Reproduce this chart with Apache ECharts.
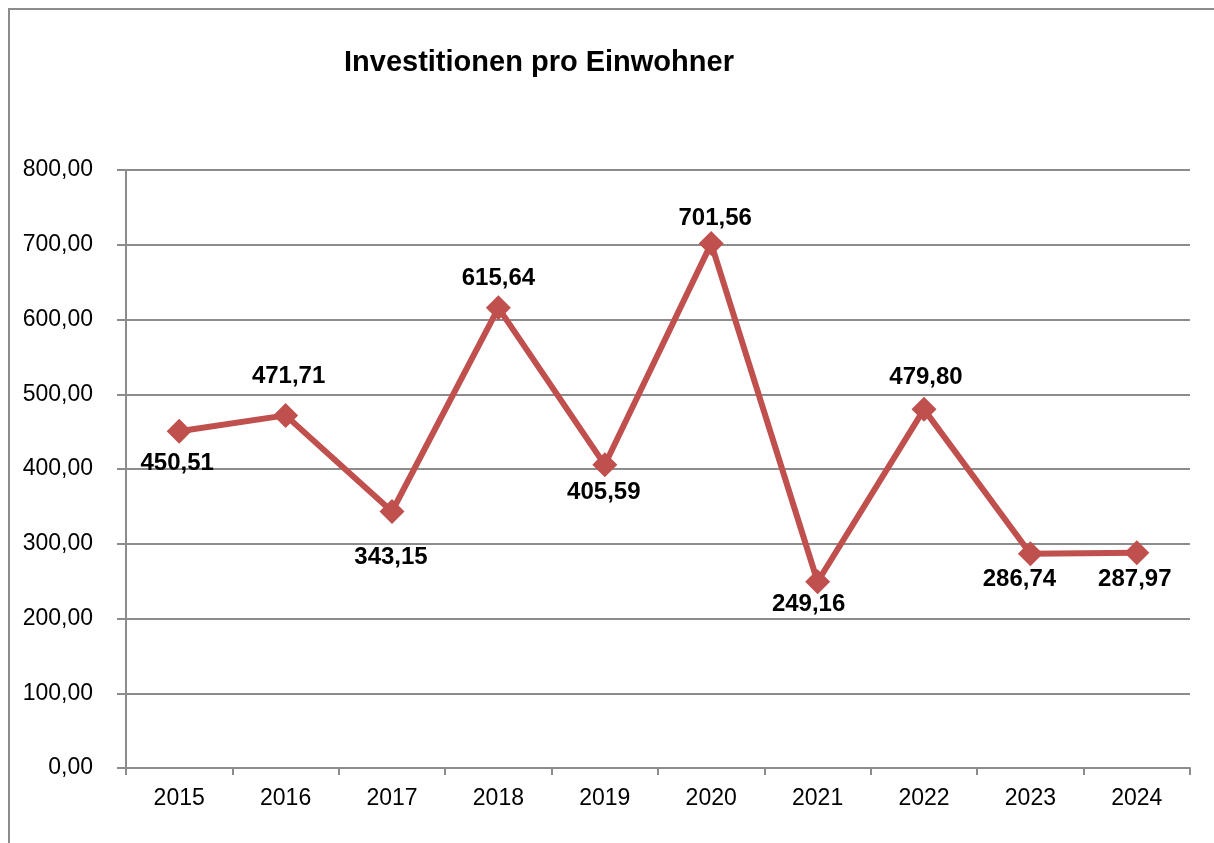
<!DOCTYPE html>
<html>
<head>
<meta charset="utf-8">
<script src="https://cdn.jsdelivr.net/npm/echarts@6/dist/echarts.min.js"></script>
<style>
  html, body { margin: 0; padding: 0; background: #fff; }
  #frame { position: absolute; left: 8px; top: 8px; width: 1220px; height: 850px; border: 2px solid #8c8c8c; box-sizing: border-box; }
  #chart { position: absolute; left: 0; top: 0; width: 1214px; height: 843px; }
</style>
</head>
<body>
<div id="frame"></div>
<div id="chart"></div>
<script>
var years = ['2015', '2016', '2017', '2018', '2019', '2020', '2021', '2022', '2023', '2024']
var invest = [450.51, 471.71, 343.15, 615.64, 405.59, 701.56, 249.16, 479.80, 286.74, 287.97]
var yTicks = [0, 100, 200, 300, 400, 500, 600, 700, 800]

var FONT = '"Liberation Sans Narrow", "Arial Narrow", "Liberation Sans", sans-serif'
var RED = '#c0504d'
var GRID = '#8c8c8c'

function fmt(v) {
  return v.toFixed(2).replace('.', ',')
}

// label shift from the marker centre, like Excel placed them
var labelShift = [[-2, 32], [3, -39], [-1, 46], [0, -29], [-1, 28], [4, -25], [-9, 23], [2, -32], [-11, 26], [-2, 27]]

var chart = echarts.init(document.getElementById('chart'))
chart.setOption({
  animation: false,
  title: {
    text: 'Investitionen pro Einwohner',
    left: 339,
    top: 43,
    textStyle: { fontFamily: FONT, fontSize: 29, fontWeight: 'bold', color: '#000' }
  },
  grid: { left: 126, right: 24, top: 170, bottom: 75 },
  xAxis: {
    type: 'category',
    data: years,
    boundaryGap: true,
    axisLine: { lineStyle: { color: GRID, width: 2 } },
    axisTick: { show: true, length: 7, lineStyle: { color: GRID, width: 2 } },
    axisLabel: { fontFamily: FONT, fontSize: 23, color: '#000', margin: 19 }
  },
  yAxis: {
    type: 'value',
    min: yTicks[0],
    max: yTicks[yTicks.length - 1],
    interval: 100,
    axisLine: { show: true, lineStyle: { color: GRID, width: 2 } },
    axisTick: { show: true, length: 9, lineStyle: { color: GRID, width: 2 } },
    splitLine: { lineStyle: { color: GRID, width: 2 } },
    axisLabel: { fontFamily: FONT, fontSize: 23, color: '#000', margin: 33, formatter: fmt }
  },
  series: [{
    type: 'line',
    data: invest.map(function (v, i) {
      return {
        value: v,
        label: { offset: labelShift[i] }
      }
    }),
    symbol: 'diamond',
    symbolSize: 25,
    lineStyle: { color: RED, width: 6 },
    itemStyle: { color: RED },
    label: {
      show: true,
      position: 'inside',
      fontFamily: FONT,
      fontSize: 24,
      fontWeight: 'bold',
      color: '#000',
      formatter: function (p) { return fmt(p.value) }
    }
  }]
})
</script>
</body>
</html>
